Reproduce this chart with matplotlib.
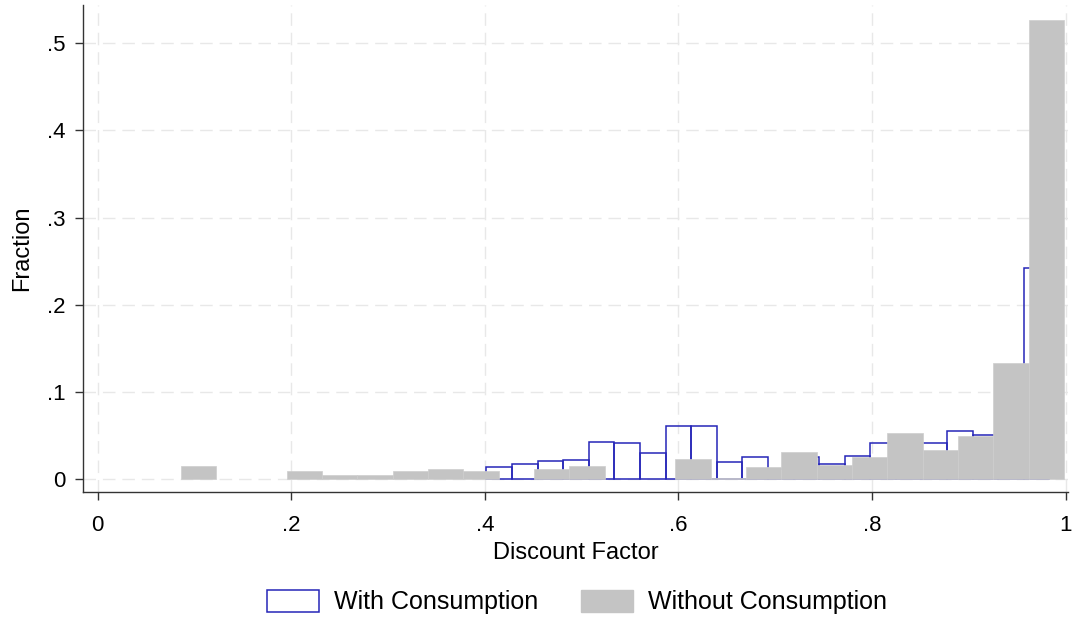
import numpy as np
import matplotlib
matplotlib.use("Agg")
import matplotlib.pyplot as plt
from matplotlib.patches import Patch

plt.rcParams['font.family'] = ['Liberation Sans', 'DejaVu Sans']

# Histogram of discount factors: with consumption (hollow) and without (filled)
with_start = 0.40165
with_width = 0.026433
with_fraction = [0.0147, 0.0178, 0.0208, 0.0223, 0.0430, 0.0415, 0.0307, 0.0609,
                 0.0609, 0.0204, 0.0254, 0.0120, 0.0260, 0.0178, 0.0269, 0.0415,
                 0.0450, 0.0415, 0.0556, 0.0510, 0.0800, 0.2426]

without_start = 0.08588
without_width = 0.036495
without_fraction = [0.0150, 0.0, 0.0, 0.0097, 0.0052, 0.0052, 0.0101, 0.0117,
                    0.0099, 0.0, 0.0117, 0.0151, 0.0, 0.0, 0.0231, 0.0020,
                    0.0147, 0.0319, 0.0166, 0.0261, 0.0529, 0.0338, 0.0495,
                    0.1331, 0.5263]

x_ticks = [0, 0.2, 0.4, 0.6, 0.8, 1.0]
x_tick_labels = ['0', '.2', '.4', '.6', '.8', '1']
y_ticks = [0, 0.1, 0.2, 0.3, 0.4, 0.5]
y_tick_labels = ['0', '.1', '.2', '.3', '.4', '.5']

blue = '#2626b8'
gray = '#c4c4c4'

fig = plt.figure(figsize=(10.73, 6.17), dpi=100)
ax = fig.add_axes([83.3 / 1073, 1 - 492.3 / 617, (1068 - 83.3) / 1073, (492.3 - 5) / 617])

with_left = with_start + with_width * np.arange(len(with_fraction))
without_left = without_start + without_width * np.arange(len(without_fraction))

ax.bar(with_left, with_fraction, width=with_width, align='edge', fill=False,
       edgecolor=blue, linewidth=1.1, zorder=2)
without_h = np.array(without_fraction)
ax.bar(without_left, without_h, width=without_width, align='edge', color=gray,
       edgecolor='#cdcdcd', linewidth=np.where(without_h > 0, 0.5, 0.0), zorder=3)

ax.set_xlim(-0.0148, 1.0024)
ax.set_ylim(-0.0147, 0.5435)

ax.set_xticks(x_ticks)
ax.set_xticklabels(x_tick_labels)
ax.set_yticks(y_ticks)
ax.set_yticklabels(y_tick_labels)
ax.tick_params(axis='both', labelsize=16, length=6, width=1.0, color='#333333')
ax.tick_params(axis='x', pad=10)
ax.tick_params(axis='y', pad=7)

for side in ('top', 'right'):
    ax.spines[side].set_visible(False)
for side in ('left', 'bottom'):
    ax.spines[side].set_color('#333333')
    ax.spines[side].set_linewidth(1.0)

ax.grid(True, color='#e8e8e8', linewidth=1.0, linestyle=(0, (9, 5)), zorder=0)
ax.set_axisbelow(True)

ax.set_xlabel('Discount Factor', fontsize=17, labelpad=5)
ax.set_ylabel('Fraction', fontsize=17, labelpad=10)

handles = [Patch(facecolor='white', edgecolor=blue, linewidth=1.1),
           Patch(facecolor=gray, edgecolor=gray)]
fig.legend(handles, ['With Consumption', 'Without Consumption'],
           loc='center', bbox_to_anchor=(577 / 1073, 1 - 602 / 617), ncol=2,
           frameon=False, fontsize=18, handlelength=2.1, handleheight=1.0,
           handletextpad=0.6, columnspacing=1.7)

fig.savefig('out.png', dpi=100, facecolor='white')
